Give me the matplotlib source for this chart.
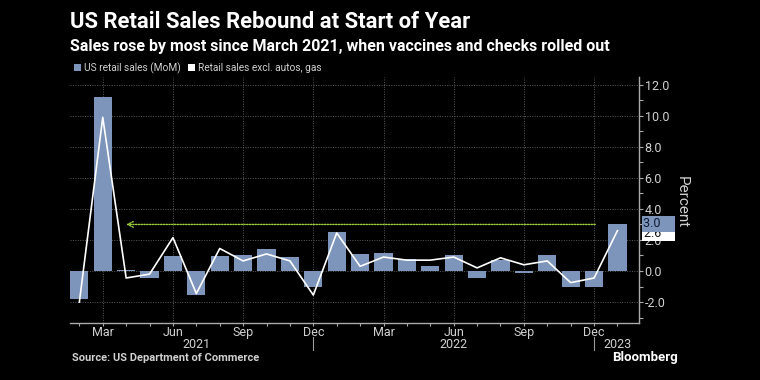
import matplotlib
matplotlib.use("Agg")
import matplotlib.pyplot as plt
from matplotlib.patches import Patch
from matplotlib.ticker import MultipleLocator, FixedLocator, FuncFormatter
import matplotlib.transforms as mtransforms

months = ["2021-02", "2021-03", "2021-04", "2021-05", "2021-06", "2021-07",
          "2021-08", "2021-09", "2021-10", "2021-11", "2021-12", "2022-01",
          "2022-02", "2022-03", "2022-04", "2022-05", "2022-06", "2022-07",
          "2022-08", "2022-09", "2022-10", "2022-11", "2022-12", "2023-01"]
month_names = ["Jan", "Feb", "Mar", "Apr", "May", "Jun",
               "Jul", "Aug", "Sep", "Oct", "Nov", "Dec"]
retail_sales = [-1.8, 11.2, 0.05, -0.45, 0.95, -1.55, 0.95, 1.05, 1.4, 0.9,
                -1.05, 2.5, 1.1, 1.15, 0.75, 0.35, 1.0, -0.45, 0.7, -0.15,
                1.05, -1.05, -1.05, 3.0]
ex_autos_gas = [-2.0, 9.9, -0.45, -0.2, 2.15, -1.45, 1.45, 0.65, 1.1, 0.65,
                -1.55, 2.45, 0.3, 0.9, 0.7, 0.7, 0.9, 0.2, 0.85, 0.4,
                0.65, -0.75, -0.45, 2.6]
labeled_months = ["Mar", "Jun", "Sep", "Dec"]

BG = "black"
TXT = "#d0d0d0"
BAR = "#7d95bb"
GRID = "#5a5a5a"
GREEN = "#9ccc3c"

plt.rcParams['font.family'] = ['Roboto', 'DejaVu Sans']

W, H = 760, 380
fig = plt.figure(figsize=(7.6, 3.8), dpi=100, facecolor=BG)

def fx(px):
    return px / W

def fy(py):
    return 1 - py / H

ax_l, ax_r, ax_t, ax_b = 70, 639, 77, 323
ax = fig.add_axes([fx(ax_l), fy(ax_b), fx(ax_r - ax_l), (ax_b - ax_t) / H])
ax.set_facecolor(BG)

x = list(range(len(months)))
ax.bar(x, retail_sales, width=0.78, color=BAR, zorder=2)
ax.plot(x, ex_autos_gas, color="white", lw=1.2, zorder=3)

ax.set_xlim(-0.4, 23.92)
ax.set_ylim(-3.35, 12.5)

# y axis on right
ax.yaxis.tick_right()
ax.yaxis.set_label_position("right")
ax.yaxis.set_major_locator(MultipleLocator(2))
ax.yaxis.set_minor_locator(MultipleLocator(1))
ax.yaxis.set_major_formatter(FuncFormatter(lambda v, p: f"{v:.1f}"))
ax.tick_params(axis="y", which="both", colors="#aaaaaa", labelcolor=TXT,
               labelsize=9, length=3, width=0.8, pad=1)

# x ticks
mon_of = [month_names[int(m[5:]) - 1] for m in months]
major_idx = [i for i, m in enumerate(mon_of) if m in labeled_months]
ax.xaxis.set_major_locator(FixedLocator(major_idx))
ax.xaxis.set_major_formatter(FuncFormatter(
    lambda v, p: mon_of[int(round(v))] if 0 <= int(round(v)) < len(mon_of) else ""))
ax.xaxis.set_minor_locator(FixedLocator(x))
ax.tick_params(axis="x", which="both", colors="#aaaaaa", labelcolor=TXT,
               labelsize=9, length=2, width=0.8, pad=0)

for s in ["top", "left"]:
    ax.spines[s].set_visible(False)
for s in ["bottom", "right"]:
    ax.spines[s].set_color("#aaaaaa")
    ax.spines[s].set_linewidth(1.0)

ax.grid(True, which="major", color=GRID, ls=(0, (1, 1.5)), lw=0.7, zorder=0)

ax.set_ylabel("Percent", color=TXT, fontsize=11, rotation=270, labelpad=14)
ax.yaxis.set_label_coords(1.087, 0.49)

# year labels and separators
trans = mtransforms.blended_transform_factory(ax.transData, ax.transAxes)
year_pos = {"2021": 5, "2022": 16, "2023": 23}
for yr, pos in year_pos.items():
    ax.text(pos, -0.088, yr, transform=trans, ha="center", va="center",
            color=TXT, fontsize=9)
for i, m in enumerate(mon_of):
    if m == "Dec":
        ax.plot([i, i], [-0.057, -0.11], transform=trans, color="#999999",
                lw=0.8, clip_on=False)

# dotted arrow from latest value back to March 2021
latest = retail_sales[-1]
ax.annotate("", xy=(2.0, latest), xytext=(22.05, latest),
            arrowprops=dict(arrowstyle="->", color=GREEN, lw=1.0,
                            linestyle=(0, (1, 1)), shrinkA=0, shrinkB=0),
            zorder=4)

# right-side value labels
ax.annotate(f"{ex_autos_gas[-1]:.1f}    ", xy=(1, ex_autos_gas[-1]),
            xycoords=("axes fraction", "data"), xytext=(3.5, -2),
            textcoords="offset points", ha="left", va="center",
            fontsize=9, color="#111111",
            bbox=dict(boxstyle="square,pad=0.12", fc="white", ec="none"),
            annotation_clip=False, zorder=5)
ax.annotate(f"{latest:.1f}    ", xy=(1, latest),
            xycoords=("axes fraction", "data"), xytext=(3, 0.5),
            textcoords="offset points", ha="left", va="center",
            fontsize=9, color="#0e1a33",
            bbox=dict(boxstyle="square,pad=0.12", fc=BAR, ec="none"),
            annotation_clip=False, zorder=6)

# legend
handles = [Patch(facecolor=BAR, edgecolor="none", label="US retail sales (MoM)"),
           Patch(facecolor="white", edgecolor="none", label="Retail sales excl. autos, gas")]
fig.legend(handles=handles, loc="center left", bbox_to_anchor=(fx(74), fy(68)),
           ncol=2, frameon=False, fontsize=7.3, labelcolor=TXT,
           handlelength=0.7, handleheight=0.7, handletextpad=0.3,
           columnspacing=0.7, borderpad=0, borderaxespad=0)

# titles
fig.text(fx(70), fy(22), "US Retail Sales Rebound at Start of Year",
         color="white", fontsize=15.9, fontweight="bold", ha="left", va="center")
fig.text(fx(70), fy(47),
         "Sales rose by most since March 2021, when vaccines and checks rolled out",
         color="white", fontsize=11.5, fontweight="bold", ha="left", va="center")
fig.text(fx(72), fy(358), "Source: US Department of Commerce",
         color=TXT, fontsize=8, fontweight="bold", ha="left", va="center")
fig.text(fx(612), fy(357.5), "Bloomberg", color="white", fontsize=9.5,
         fontweight="bold", ha="left", va="center")

fig.savefig("out.png", dpi=100, facecolor=BG)
